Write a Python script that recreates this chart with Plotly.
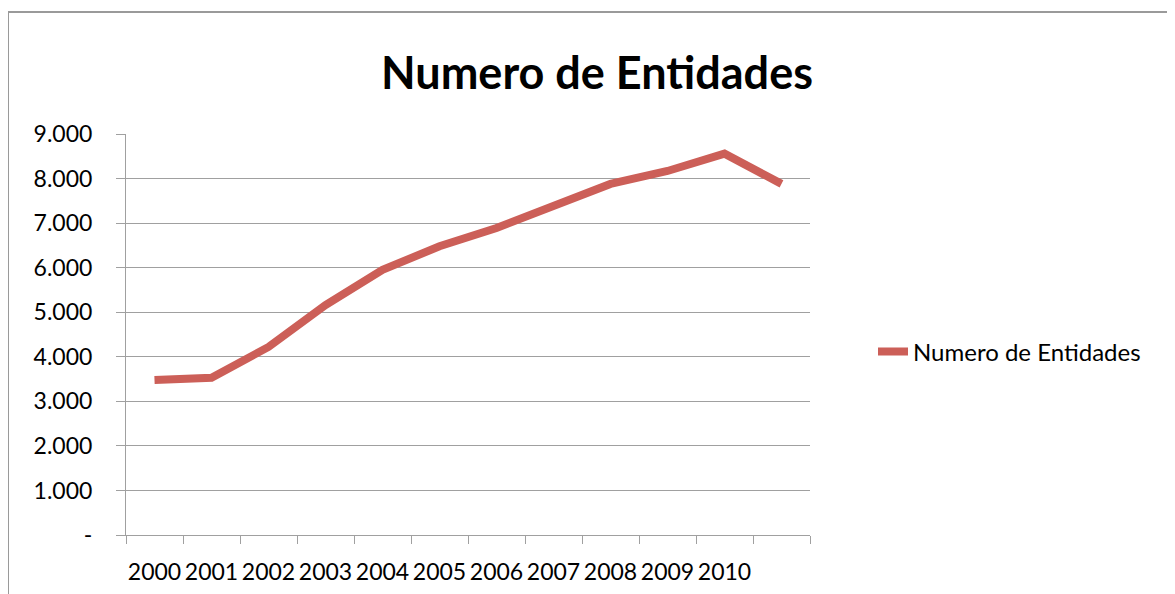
import plotly.graph_objects as go

years = ["2000", "2001", "2002", "2003", "2004", "2005", "2006",
         "2007", "2008", "2009", "2010", ""]
entidades = [3480, 3530, 4220, 5160, 5950, 6480, 6890, 7380, 7880, 8170, 8560, 7880]
y_ticks = [0, 1000, 2000, 3000, 4000, 5000, 6000, 7000, 8000, 9000]
y_labels = ["-", "1.000", "2.000", "3.000", "4.000", "5.000",
            "6.000", "7.000", "8.000", "9.000"]
series_name = "Numero de Entidades"
title_text = "Numero de Entidades"

FONT = "Lato, 'Open Sans', sans-serif"
GRID = "#A0A0A0"
RED = "#CC5F58"

# page body has an 8px default margin, so the figure starts at (8, 8)
O = 8
W, H = 1175 - O, 594 - O
L, R, T, B = 126 - O, 810 - O, 134 - O, 535 - O

idx = list(range(len(years)))

fig = go.Figure()
fig.add_trace(go.Scatter(
    x=idx, y=entidades, mode="lines", name=series_name,
    line=dict(color=RED, width=8), showlegend=True,
))

fig.update_layout(
    width=W, height=H,
    margin=dict(l=L, r=W - R, t=T, b=H - B, pad=0, autoexpand=False),
    paper_bgcolor="white", plot_bgcolor="white",
    font=dict(family=FONT, size=23, color="black"),
    title=dict(text="<b>" + title_text + "</b>", x=(597 - O) / W, xanchor="center",
               y=1 - (73 - O) / H, yanchor="middle",
               font=dict(family=FONT, size=45, color="black")),
    showlegend=True,
    legend=dict(x=(873 - O - L) / (R - L), xanchor="left",
                y=(B - (352 - O)) / (B - T), yanchor="middle",
                font=dict(family=FONT, size=24, color="black"),
                bgcolor="rgba(0,0,0,0)"),
    xaxis=dict(
        range=[-0.5, len(years) - 0.5],
        tickmode="array", tickvals=idx, ticktext=years,
        ticks="", showgrid=False, zeroline=False,
        showline=True, linecolor=GRID, linewidth=1,
        ticklabelstandoff=16, automargin=False,
        tickfont=dict(family=FONT, size=23, color="black"),
        minor=dict(tickmode="array",
                   tickvals=[i - 0.5 for i in range(len(years) + 1)],
                   ticks="outside", ticklen=8, tickcolor=GRID, tickwidth=1,
                   showgrid=False),
    ),
    yaxis=dict(
        range=[0, 9000],
        tickmode="array", tickvals=y_ticks, ticktext=y_labels,
        ticks="outside", ticklen=9, tickcolor=GRID, tickwidth=1,
        showgrid=True, gridcolor=GRID, gridwidth=1,
        zeroline=False, showline=True, linecolor=GRID, linewidth=1,
        ticklabelstandoff=19, automargin=False,
        tickfont=dict(family=FONT, size=23, color="black"),
    ),
)

# outer chart-area border (partly clipped by the window, as in the reference)
pw, ph = R - L, B - T
fig.add_shape(type="rect", xref="paper", yref="paper",
              x0=(8 - O - L) / pw, x1=(1200 - O - L) / pw,
              y0=(B - (620 - O)) / ph, y1=(B - (12 - O)) / ph,
              line=dict(color="#9A9A9A", width=2), fillcolor="rgba(0,0,0,0)",
              layer="below")

fig.write_html("out.html")
